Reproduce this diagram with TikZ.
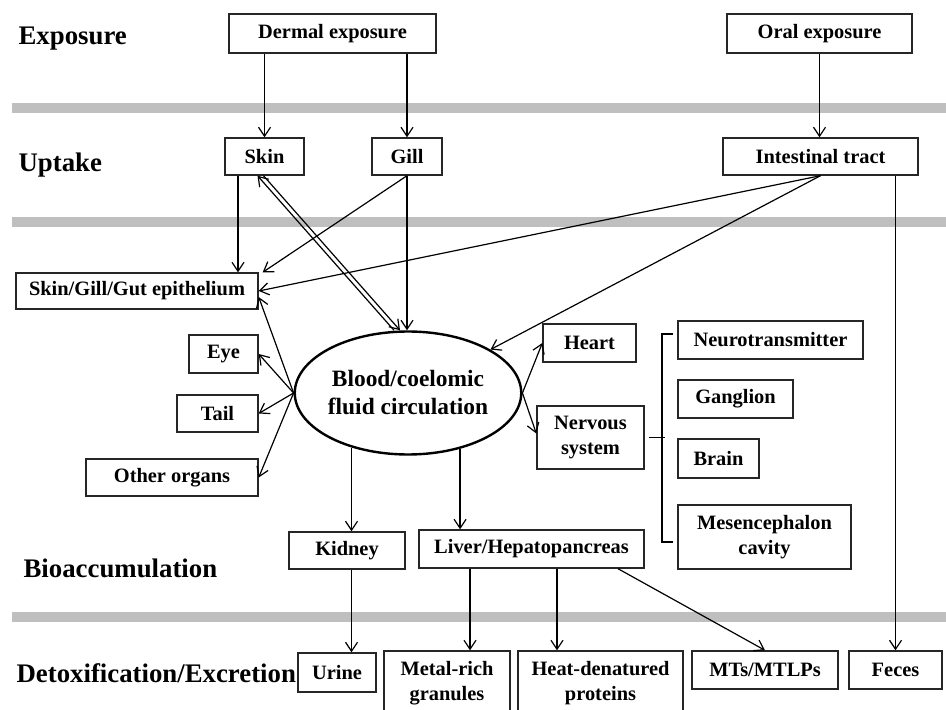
\documentclass[tikz,border=0pt]{standalone}
\usepackage{fontspec}
\setmainfont{Liberation Serif}
\usetikzlibrary{arrows.meta,shapes.geometric}
\tikzset{
 box/.style={draw=black!85,line width=.7pt,align=center,inner sep=1pt,minimum height=19pt,font=\bfseries\fontsize{10.2}{12.5}\selectfont},
 stage/.style={anchor=west,inner sep=0pt,font=\bfseries\fontsize{13.4}{15}\selectfont},
 band/.style={line width=5pt,black!25},
}
\begin{document}
\begin{tikzpicture}[x=.5pt,y=-.5pt,>={Straight Barb[length=4.5pt,width=6pt]},line width=.6pt]
\clip (0,0) rectangle (946,710);
% grey separators
\draw[band] (12,108)--(946,108);
\draw[band] (12,222)--(946,222);
\draw[band] (12,617)--(946,617);
% stage labels
\node[stage] (lexp) at (18,39) {Exposure};
\node[stage] (lupt) at (18,165) {Uptake};
\node[stage] (lbio) at (23,568) {Bioaccumulation};
\node[stage] (ldet) at (16,673) {Detoxification/Excretion};
% boxes
\node[box,minimum width=103.5pt,minimum height=19.5pt] (derm) at (332.5,33.5) {Dermal exposure};
\node[box,minimum width=92.5pt,minimum height=19.5pt] (oral) at (819.5,33.5) {Oral exposure};
\node[box,minimum width=39.5pt,minimum height=18.5pt] (skin) at (264.5,156.5) {Skin};
\node[box,minimum width=35pt,minimum height=18.5pt] (gill) at (407,156.5) {Gill};
\node[box,minimum width=97.5pt,minimum height=18.5pt] (intest) at (820.5,156.5) {Intestinal tract};
\node[box,minimum width=121pt,minimum height=18pt] (epi) at (137,291) {Skin/Gill/Gut epithelium};
\node[box,minimum width=34.5pt] (eye) at (223.5,354) {Eye};
\node[box,minimum width=40.5pt,minimum height=18.5pt] (tail) at (217.5,413.5) {Tail};
\node[box,minimum width=86pt,minimum height=18.5pt] (other) at (172,477.5) {Other organs};
\node[draw,ellipse,line width=1.2pt,minimum width=93.5pt,minimum height=61.5pt,inner sep=0pt,align=center,
  font=\bfseries\fontsize{11.7}{14}\selectfont] (blood) at (408,393) {Blood/coelomic\\fluid circulation};
\node[box,minimum width=46.5pt] (heart) at (589.5,343) {Heart};
\node[box,minimum width=53.5pt,minimum height=31.5pt] (nerv) at (590.5,437.5) {Nervous\\system};
\node[box,minimum width=92.5pt] (neuro) at (770.5,340) {Neurotransmitter};
\node[box,minimum width=57.5pt] (gang) at (735.5,399) {Ganglion};
\node[box,minimum width=40.5pt,minimum height=19.5pt] (brain) at (718.5,458.5) {Brain};
\node[box,minimum width=86.5pt,minimum height=32pt] (mesen) at (764.5,537) {Mesencephalon\\cavity};
\node[box,minimum width=58pt,minimum height=18.5pt] (kidney) at (347,550.5) {Kidney};
\node[box,minimum width=112.5pt] (liver) at (531.5,549) {Liver/Hepatopancreas};
\node[box,minimum width=39pt,minimum height=19.5pt] (urine) at (337,672.5) {Urine};
\node[box,minimum width=63pt,minimum height=32pt] (metal) at (447,683) {Metal-rich\\granules};
\node[box,minimum width=82.5pt,minimum height=32pt] (heat) at (600.5,683) {Heat-denatured\\proteins};
\node[box,minimum width=73pt] (mts) at (765,670) {MTs/MTLPs};
\node[box,minimum width=46.5pt] (feces) at (895.5,670) {Feces};
% exposure -> uptake
\draw[->] (derm.south -| skin.north) -- (skin.north);
\draw[->] (derm.south -| gill.north) -- (gill.north);
\draw[->] (oral.south) -- (oral.south |- intest.north);
% uptake -> epithelium / circulation
\draw[->] ([xshift=-13.25pt]skin.south) -- ([xshift=-13.25pt]skin.south |- epi.north);
\draw[->] (gill.south) -- ([xshift=2pt]epi.north east);
\draw[->] (intest.south) -- (epi.east);
\draw[->] (intest.south) -- (blood);
\draw[->] (gill.south) -- (gill.south |- blood.north);
\draw[->] ([xshift=-7pt]blood.north) -- ([xshift=-3.5pt]skin.south);
\draw[->] ([xshift=-.5pt]skin.south) -- ([xshift=-4pt]blood.north);
% circulation -> organs
\draw[->] (blood.west) -- ([yshift=-3pt]epi.east);
\draw[->] (blood.west) -- (eye.east);
\draw[->] (blood.west) -- (tail.east);
\draw[->] (blood.west) -- (other.east);
\draw[->] (blood.east) -- (heart.west);
\draw[->] (blood.east) -- ([yshift=2pt]nerv.west);
\draw[->] (blood.224) -- (blood.224 |- kidney.north);
\draw[->] (blood.313) -- (blood.313 |- liver.north);
% nervous system bracket
\draw ([xshift=2pt]nerv.east) -- ++(8pt,0);
\draw (673,334) -| (662,542) -- (673,542);
% detoxification / excretion
\draw[->] (blood.224 |- kidney.south) -- (blood.224 |- urine.north);
\draw[->] ([xshift=-30.75pt]liver.south) -- ([xshift=-30.75pt]liver.south |- metal.north);
\draw[->] ([xshift=12.75pt]liver.south) -- ([xshift=12.75pt]liver.south |- heat.north);
\draw[->] ([xshift=43.25pt]liver.south) -- (mts.north);
\draw[->] (feces.north |- intest.south) -- (feces.north);
\end{tikzpicture}
\end{document}
